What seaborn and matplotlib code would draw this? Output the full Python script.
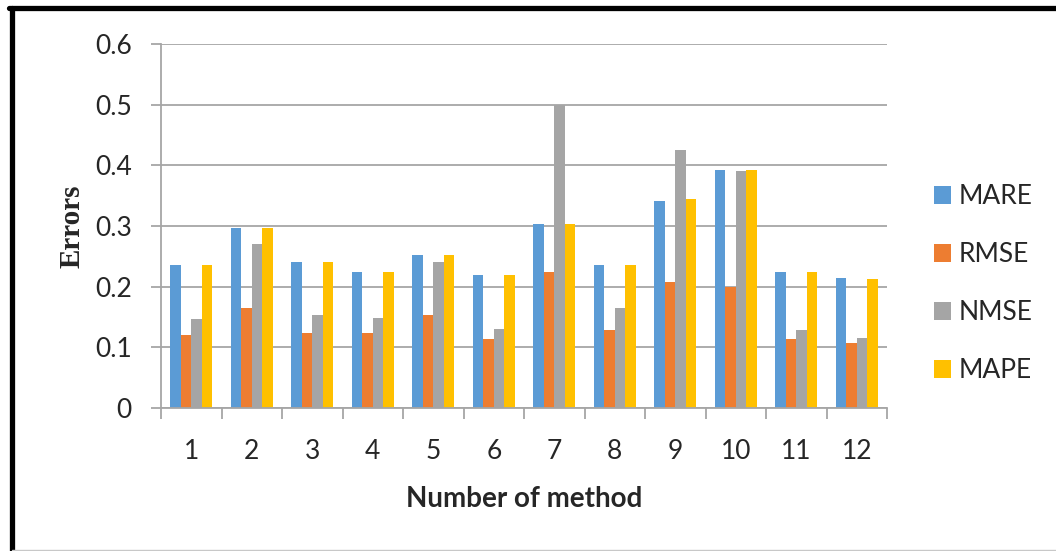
import numpy as np
import pandas as pd
import matplotlib
matplotlib.use('Agg')
import matplotlib.pyplot as plt
import seaborn as sns
from matplotlib.lines import Line2D

# Data
methods = [str(i) for i in range(1, 13)]
mare = [0.235, 0.297, 0.240, 0.225, 0.252, 0.220, 0.304, 0.235, 0.341, 0.393, 0.225, 0.215]
rmse = [0.120, 0.165, 0.123, 0.123, 0.154, 0.113, 0.225, 0.128, 0.207, 0.199, 0.113, 0.108]
nmse = [0.147, 0.271, 0.154, 0.149, 0.240, 0.130, 0.500, 0.165, 0.426, 0.391, 0.128, 0.115]
mape = [0.235, 0.297, 0.240, 0.225, 0.252, 0.220, 0.304, 0.235, 0.344, 0.393, 0.225, 0.212]
series_names = ['MARE', 'RMSE', 'NMSE', 'MAPE']
y_ticks = [0, 0.1, 0.2, 0.3, 0.4, 0.5, 0.6]
y_labels = ['0', '0.1', '0.2', '0.3', '0.4', '0.5', '0.6']

palette = ['#5B9BD5', '#ED7D31', '#A5A5A5', '#FFC000']

df = pd.DataFrame({'method': methods * 4,
                   'series': np.repeat(series_names, len(methods)),
                   'value': mare + rmse + nmse + mape})

sns.set_theme(style='white')
plt.rcParams['font.family'] = ['Lato', 'DejaVu Sans']

fig = plt.figure(figsize=(10.56, 5.51), dpi=100)
ax = fig.add_axes([0.1525, 0.2595, 0.6875, 0.6605])

sns.barplot(data=df, x='method', y='value', hue='series', palette=palette,
            width=0.7, linewidth=0, saturation=1, ax=ax, legend=True)

grid_c = '#A6A6A6'
text_c = '#262626'
ax.set_ylim(0, 0.6)
ax.set_xlim(-0.5, 11.5)
ax.set_yticks(y_ticks)
ax.set_yticklabels(y_labels, fontsize=19, color=text_c)
ax.yaxis.grid(True, color=grid_c, linewidth=1.3)
ax.set_axisbelow(True)
for s in ['top', 'right']:
    ax.spines[s].set_visible(False)
for s in ['left', 'bottom']:
    ax.spines[s].set_color(grid_c)
    ax.spines[s].set_linewidth(1.3)

ax.tick_params(axis='y', which='major', left=True, length=7, width=1.3, color=grid_c, pad=14)
ax.tick_params(axis='x', which='major', bottom=False, labelsize=19, labelcolor=text_c, pad=16)
ax.set_xticks(np.arange(-0.5, 12, 1), minor=True)
ax.tick_params(axis='x', which='minor', bottom=True, length=8, width=1.3, color=grid_c)

ax.set_xlabel('Number of method', fontsize=20, fontweight='bold', color=text_c, labelpad=16)
ax.set_ylabel('Errors', fontsize=21, fontweight='bold', family='Liberation Serif', labelpad=7)

ax.legend(loc='center left', bbox_to_anchor=(0.862, 0.485), bbox_transform=fig.transFigure,
          frameon=False, fontsize=19, handlelength=0.65, handleheight=0.65,
          handletextpad=0.3, labelspacing=1.25)

# outer frame like the pasted screenshot
fig.add_artist(Line2D([0.0085, 1.0], [0.9846, 0.9846], color='black', linewidth=3.8,
                      transform=fig.transFigure))
fig.add_artist(Line2D([0.0109, 0.0109], [0.0, 0.9846], color='black', linewidth=3.8,
                      transform=fig.transFigure))
fig.add_artist(Line2D([0.0109, 1.0], [0.002, 0.002], color='#C8C8C8', linewidth=1,
                      transform=fig.transFigure))

fig.savefig('out.png', dpi=100)
